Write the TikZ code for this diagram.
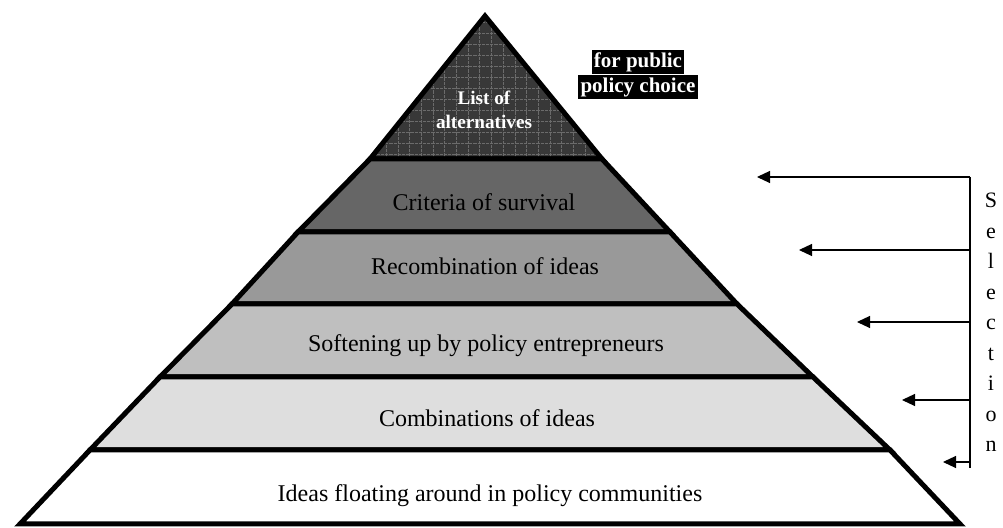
\documentclass[tikz,border=0pt]{standalone}
\usepackage{fontspec}
\setmainfont{Liberation Serif}
\usepackage{xcolor}
\usetikzlibrary{arrows.meta, positioning, calc}
\tikzset{
  layer/.style    = {draw, line width=2.5pt, line join=miter},
  gridline/.style = {draw=black!58, line width=0.3pt, dash pattern=on 1.6pt off 0.5pt},
  blab/.style     = {font=\fontsize{12}{14}\selectfont, inner sep=0pt, anchor=base},
  toplab/.style   = {font=\bfseries\fontsize{9.6}{12}\selectfont, text=white,
                     align=center, inner sep=0pt},
  choice/.style   = {font=\bfseries\fontsize{10.5}{12}\selectfont, text=white, fill=black,
                     inner xsep=1.2pt, inner ysep=0.8pt, text height=8pt, text depth=2.5pt},
  selarrow/.style = {line width=0.55pt, -{Triangle[length=6.5pt, width=6pt]}},
  selline/.style  = {line width=0.55pt},
  sletter/.style  = {font=\fontsize{11}{13}\selectfont, inner sep=0pt, anchor=base},
}

\begin{document}
\begin{tikzpicture}[x=0.5pt, y=-0.5pt]
  \useasboundingbox (0,0) rectangle (1003,528);
  % ---- corners of the layers
  \coordinate (apex) at (485,16);
  \coordinate (l0) at (370,159); \coordinate (r0) at (602,159);
  \coordinate (l1) at (298,232); \coordinate (r1) at (670,232);
  \coordinate (l2) at (232,304); \coordinate (r2) at (737,304);
  \coordinate (l3) at (160,377); \coordinate (r3) at (813,377);
  \coordinate (l4) at (90,450);  \coordinate (r4) at (890,450);
  \coordinate (l5) at (20,524);  \coordinate (r5) at (960,524);
  % ---- top: list of alternatives
  \begin{scope}
    \clip (apex) -- (l0) -- (r0) -- cycle;
    \fill[black!78] (360,0) rectangle (610,165);
    \draw[gridline, xstep=5.85pt, ystep=5.5pt] (360,0) grid (610,165);
  \end{scope}
  \draw[layer] (apex) -- (l0) -- (r0) -- cycle;
  \node[toplab] (alt) at (484,110) {List of\\alternatives};
  % ---- the layers below
  \draw[layer, fill=black!60] (l0) -- (l1) -- (r1) -- (r0) -- cycle;
  \draw[layer, fill=black!40] (l1) -- (l2) -- (r2) -- (r1) -- cycle;
  \draw[layer, fill=black!25] (l2) -- (l3) -- (r3) -- (r2) -- cycle;
  \draw[layer, fill=black!13] (l3) -- (l4) -- (r4) -- (r3) -- cycle;
  \draw[layer, fill=white]    (l4) -- (l5) -- (r5) -- (r4) -- cycle;
  \node[blab] (crit) at (484,211) {Criteria of survival};
  \node[blab] (recb) at (485,275) {Recombination of ideas};
  \node[blab] (soft) at (486,352) {Softening up by policy entrepreneurs};
  \node[blab] (comb) at (487,427) {Combinations of ideas};
  \node[blab] (flot) at (490,502) {Ideas floating around in policy communities};
  % ---- for public policy choice
  \node[choice] (fp) at (638,62) {for public};
  \node[choice, below=0pt of fp] (pc) {policy choice};
  % ---- selection
  \coordinate (sbot) at (970,468);
  \foreach \i/\y/\x in {1/177/757, 2/250/799, 3/322/857, 4/400/902, 5/462/943} {
    \coordinate (s\i) at (970,\y);
    \coordinate (t\i) at (\x,\y);
    \draw[selarrow] (s\i) -- (t\i);
  }
  \draw[selline] (s1) -- (sbot);
  \foreach \ch [count=\i] in {S,e,l,e,c,t,i,o,n}
    \node[sletter] (let\i) at (991,{208+30.5*(\i-1)}) {\ch};
\end{tikzpicture}
\end{document}
